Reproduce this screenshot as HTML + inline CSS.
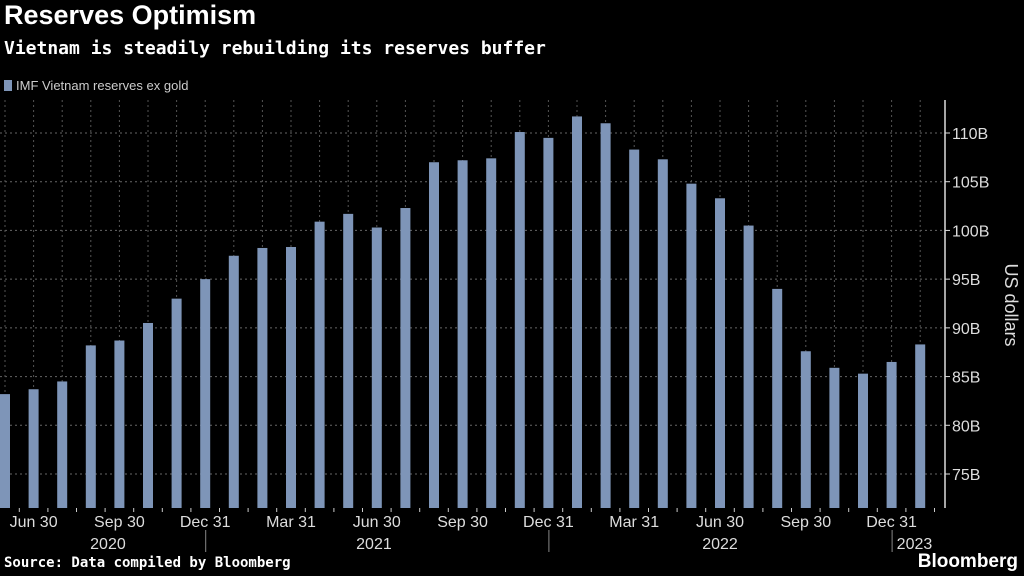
<!DOCTYPE html>
<html><head><meta charset="utf-8"><style>
html,body{margin:0;padding:0;background:#000;width:1024px;height:576px;overflow:hidden;font-family:"Liberation Sans",sans-serif;color:#fff}
.t{position:absolute;left:4px}
</style></head><body>
<div class="t" style="top:0px;font-size:27px;font-weight:bold">Reserves Optimism</div>
<div class="t" style="top:38px;font-size:18px;font-weight:bold;font-family:'DejaVu Sans Mono','Liberation Mono',monospace">Vietnam is steadily rebuilding its reserves buffer</div>
<div class="t" style="top:78px;font-size:13px;color:#ccc"><span style="display:inline-block;width:8px;height:11px;background:#7e95b8;margin-right:4px;vertical-align:-1px"></span>IMF Vietnam reserves ex gold</div>
<div class="t" style="top:555px;font-size:14px;font-weight:bold;font-family:'DejaVu Sans Mono','Liberation Mono',monospace">Source: Data compiled by Bloomberg</div>
<div style="position:absolute;right:6px;top:551px;font-size:19px;font-weight:bold">Bloomberg</div>
<svg id="c" width="1024" height="576" style="position:absolute;left:0;top:0"></svg>
<script>
const months=["May","Jun","Jul","Aug","Sep","Oct","Nov","Dec","Jan","Feb","Mar","Apr","May","Jun","Jul","Aug","Sep","Oct","Nov","Dec","Jan","Feb","Mar","Apr","May","Jun","Jul","Aug","Sep","Oct","Nov","Dec","Jan"];
const values=[83.2,83.7,84.5,88.2,88.7,90.5,93.0,95.0,97.4,98.2,98.3,100.9,101.7,100.3,102.3,107.0,107.2,107.4,110.1,109.5,111.7,111.0,108.3,107.3,104.8,103.3,100.5,94.0,87.6,85.9,85.3,86.5,88.3];
const yTicks=[75,80,85,90,95,100,105,110];
const xLabels=[[1,"Jun 30"],[4,"Sep 30"],[7,"Dec 31"],[10,"Mar 31"],[13,"Jun 30"],[16,"Sep 30"],[19,"Dec 31"],[22,"Mar 31"],[25,"Jun 30"],[28,"Sep 30"],[31,"Dec 31"]];
const years=[[3.6,"2020"],[12.9,"2021"],[25,"2022"],[31.8,"2023"]];
const yearSeps=[7,19,31];
const svg=document.getElementById('c');const NS="http://www.w3.org/2000/svg";
const X=i=>5+i*28.6, Y=v=>133+(110-v)*9.743, base=508;
function el(t,a,name){const e=document.createElementNS(NS,t);for(const k in a)e.setAttribute(k,a[k]);


svg.appendChild(e);return e;}
yTicks.forEach(v=>{el('line',{x1:0,x2:945,y1:Y(v),y2:Y(v),stroke:'#666','stroke-dasharray':'2,3','stroke-width':1},'y-gridline');
el('line',{x1:945,x2:950,y1:Y(v),y2:Y(v),stroke:'#ddd'},'y-tick');
const t=el('text',{x:952,y:Y(v)+6,fill:'#ddd','font-size':16,'font-family':'Liberation Sans'},'y-tick-label');t.textContent=v+'B';});
values.forEach((v,i)=>{el('line',{x1:X(i),x2:X(i),y1:100,y2:base,stroke:'#555','stroke-dasharray':'2,3'},'x-gridline');});
values.forEach((v,i)=>{el('rect',{x:X(i)-5,y:Y(v),width:10,height:base-Y(v),fill:'#7e95b8'},'bar-'+months[i].toLowerCase()+'-'+i);
el('line',{x1:X(i)+14.3,x2:X(i)+14.3,y1:base,y2:base+4,stroke:'#ccc'},'x-tick');});
el('line',{x1:945,x2:945,y1:100,y2:508,stroke:'#ddd','stroke-width':1.5},'y-axis-line');
xLabels.forEach(([i,s])=>{const t=el('text',{x:X(i),y:527,fill:'#ddd','font-size':16,'text-anchor':'middle','font-family':'Liberation Sans'},'x-tick-label');t.textContent=s;});
years.forEach(([i,s])=>{const t=el('text',{x:X(i),y:549,fill:'#ddd','font-size':16,'text-anchor':'middle','font-family':'Liberation Sans'},'year-label');t.textContent=s;});
yearSeps.forEach(i=>{el('line',{x1:X(i)+0.5,x2:X(i)+0.5,y1:530,y2:552,stroke:'#888'},'year-separator');});
const yt=el('text',{x:0,y:0,fill:'#ddd','font-size':18,'text-anchor':'middle','font-family':'Liberation Sans',transform:'translate(1005,305) rotate(90)'},'y-axis-title');yt.textContent='US dollars';
</script>
</body></html>
